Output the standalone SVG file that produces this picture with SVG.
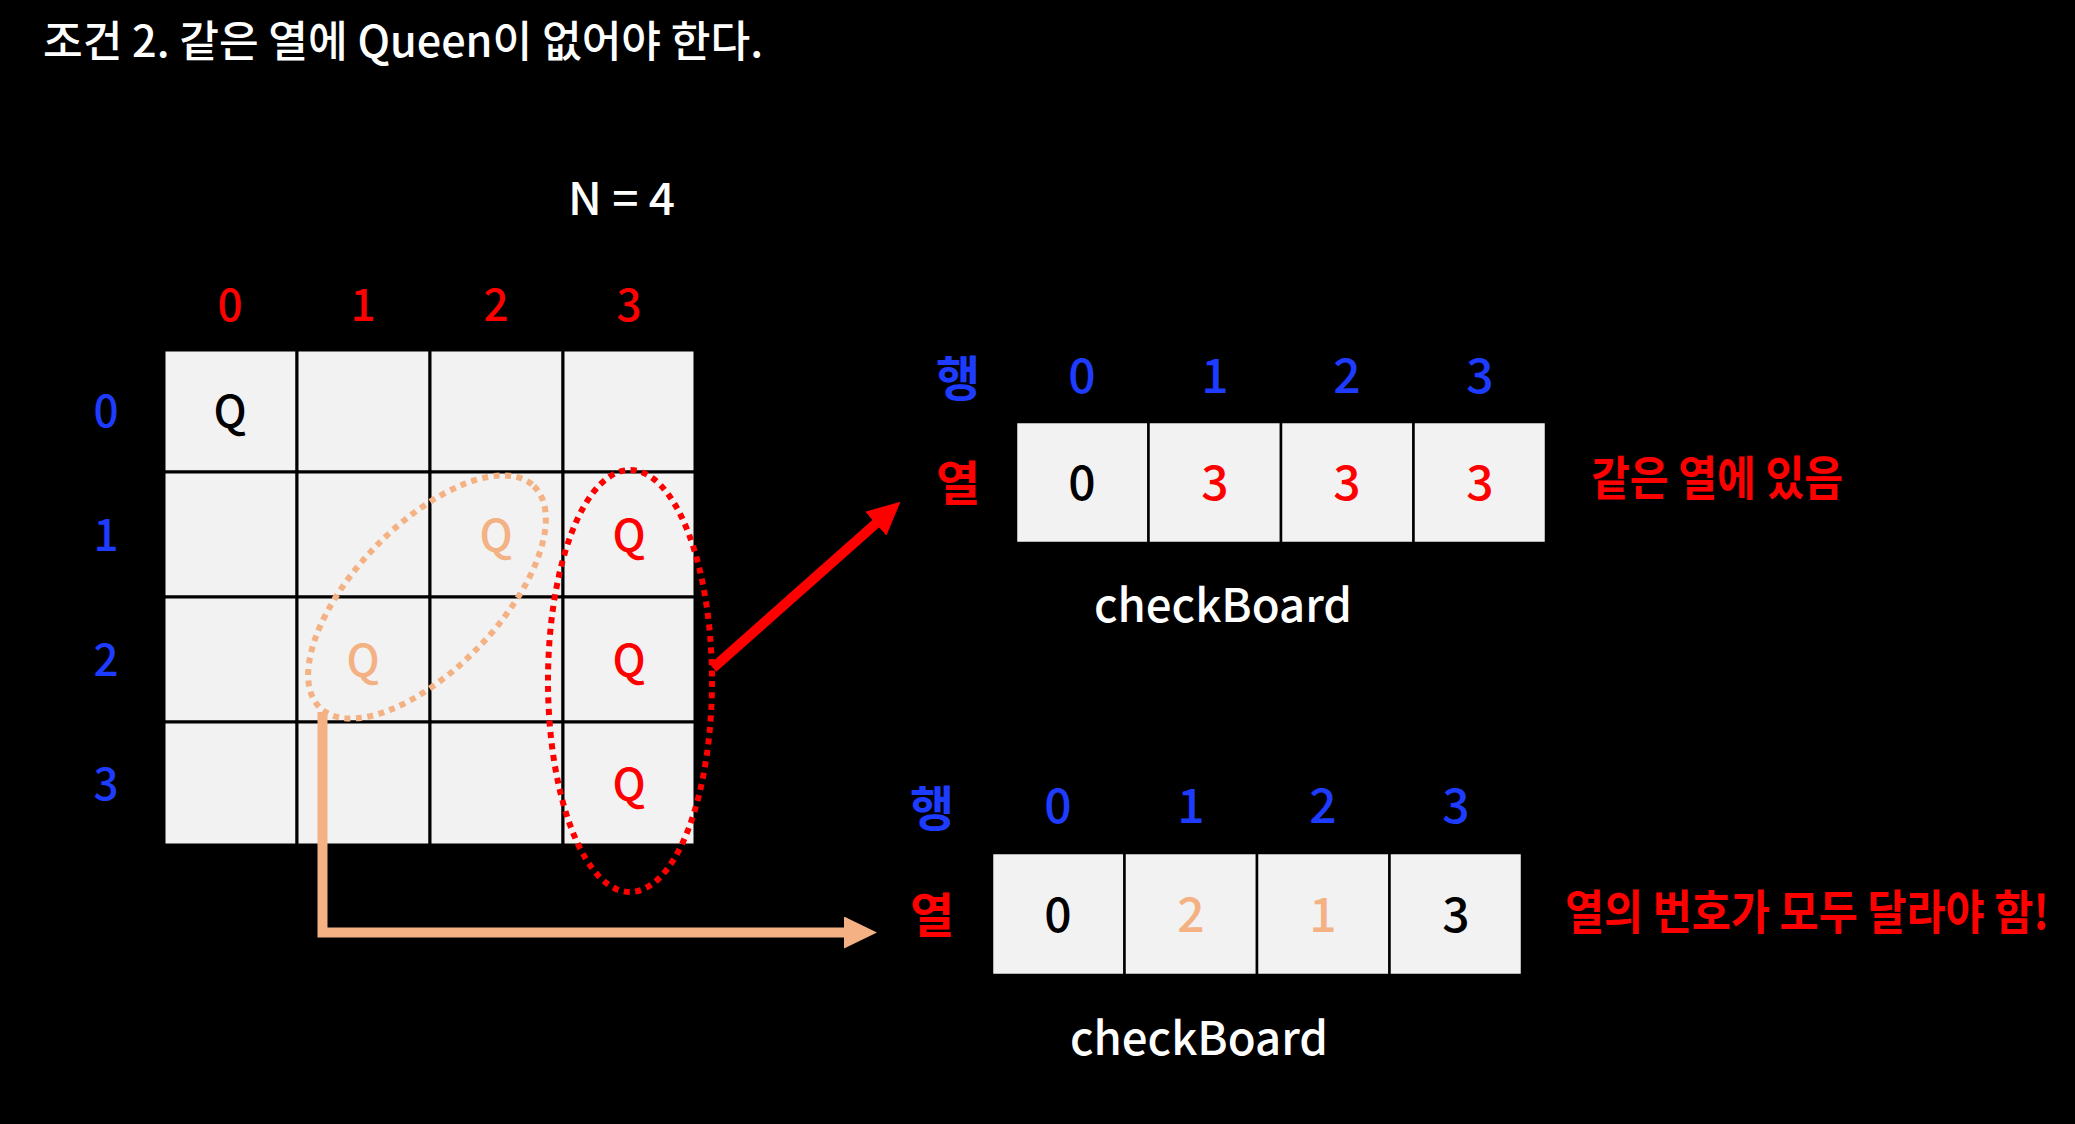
<svg xmlns="http://www.w3.org/2000/svg" width="2075" height="1124" viewBox="0 0 2075 1124">
  <style>
    text { font-family: "Noto Sans CJK KR", "Noto Sans", sans-serif; font-weight: 500; }
    .t { fill: #ffffff; }
    .red { fill: #ff0000; }
    .blue { fill: #1e3cff; }
    .org { fill: #f4b183; }
    .blk { fill: #000000; }
    .lbl { font-size: 44px; text-anchor: middle; }
    .num { font-size: 48px; text-anchor: middle; }
    .q { font-size: 44px; text-anchor: middle; }
    .hk { font-size: 48px; text-anchor: middle; font-weight: 700; }
    .cell { fill: #f2f2f2; stroke: #000000; stroke-width: 3; }
    .acell { fill: #f2f2f2; stroke: #000000; stroke-width: 2.5; }
    .ko { font-size: 47px; font-weight: 700; }
    .dots { fill: none; stroke-width: 6; stroke-dasharray: 6 5.5; }
  </style>
  <defs>
    <marker id="headRed" markerUnits="userSpaceOnUse" markerWidth="33" markerHeight="32" viewBox="0 0 33 32" refX="1" refY="16" orient="auto">
      <path d="M0,0 L33,16 L0,32 Z" fill="#ff0000"/>
    </marker>
    <marker id="headOrg" markerUnits="userSpaceOnUse" markerWidth="33" markerHeight="32" viewBox="0 0 33 32" refX="1" refY="16" orient="auto">
      <path d="M0,0 L33,16 L0,32 Z" fill="#f4b183"/>
    </marker>
  </defs>
  <rect x="0" y="0" width="2075" height="1124" fill="#000000"/>

  <g id="title">
    <text class="t" x="43" y="57" font-size="43" textLength="720" lengthAdjust="spacingAndGlyphs">조건 2. 같은 열에 Queen이 없어야 한다.</text>
  </g>
  <g id="n-label">
    <text class="t" x="568" y="215" font-size="45" textLength="107" lengthAdjust="spacingAndGlyphs">N = 4</text>
  </g>

  <g id="board">
    <g id="board-cells">
      <rect class="cell" x="164" y="350" width="133" height="122"/>
      <rect class="cell" x="297" y="350" width="133" height="122"/>
      <rect class="cell" x="430" y="350" width="133" height="122"/>
      <rect class="cell" x="563" y="350" width="132" height="122"/>
      <rect class="cell" x="164" y="472" width="133" height="125"/>
      <rect class="cell" x="297" y="472" width="133" height="125"/>
      <rect class="cell" x="430" y="472" width="133" height="125"/>
      <rect class="cell" x="563" y="472" width="132" height="125"/>
      <rect class="cell" x="164" y="597" width="133" height="125"/>
      <rect class="cell" x="297" y="597" width="133" height="125"/>
      <rect class="cell" x="430" y="597" width="133" height="125"/>
      <rect class="cell" x="563" y="597" width="132" height="125"/>
      <rect class="cell" x="164" y="722" width="133" height="123"/>
      <rect class="cell" x="297" y="722" width="133" height="123"/>
      <rect class="cell" x="430" y="722" width="133" height="123"/>
      <rect class="cell" x="563" y="722" width="132" height="123"/>
    </g>
    <g id="col-labels">
      <text class="lbl red" x="230" y="321">0</text>
      <text class="lbl red" x="363" y="321">1</text>
      <text class="lbl red" x="496" y="321">2</text>
      <text class="lbl red" x="629" y="321">3</text>
    </g>
    <g id="row-labels">
      <text class="lbl blue" x="106" y="427">0</text>
      <text class="lbl blue" x="106" y="551">1</text>
      <text class="lbl blue" x="106" y="676">2</text>
      <text class="lbl blue" x="106" y="800">3</text>
    </g>
    <g id="queens">
      <text class="q blk" x="230" y="427">Q</text>
      <text class="q org" x="496" y="551">Q</text>
      <text class="q org" x="363" y="676">Q</text>
      <text class="q red" x="629" y="551">Q</text>
      <text class="q red" x="629" y="676">Q</text>
      <text class="q red" x="629" y="800">Q</text>
    </g>
  </g>

  <g id="diag-ellipse">
    <ellipse class="dots" cx="427" cy="597" rx="154" ry="72" transform="rotate(-46 427 597)" stroke="#f4b183"/>
  </g>
  <g id="col-ellipse">
    <ellipse class="dots" cx="630" cy="681" rx="82" ry="211" stroke="#ff0000"/>
  </g>

  <g id="array-top">
    <text class="hk blue" x="958" y="396">행</text>
    <text class="hk red" x="958" y="501">열</text>
    <text class="num blue" x="1082" y="393">0</text>
    <text class="num blue" x="1215" y="393">1</text>
    <text class="num blue" x="1347" y="393">2</text>
    <text class="num blue" x="1480" y="393">3</text>
    <rect class="acell" x="1016" y="422" width="132.5" height="121"/>
    <rect class="acell" x="1148.5" y="422" width="132.5" height="121"/>
    <rect class="acell" x="1281" y="422" width="132.5" height="121"/>
    <rect class="acell" x="1413.5" y="422" width="132.5" height="121"/>
    <text class="num blk" x="1082" y="500">0</text>
    <text class="num red" x="1215" y="500">3</text>
    <text class="num red" x="1347" y="500">3</text>
    <text class="num red" x="1480" y="500">3</text>
    <text class="t" x="1094" y="622" font-size="46" textLength="258" lengthAdjust="spacingAndGlyphs">checkBoard</text>
    <text class="red ko" transform="translate(1591 495) scale(0.85 1)" x="0" y="0" textLength="296.5" lengthAdjust="spacingAndGlyphs">같은 열에 있음</text>
  </g>

  <g id="array-bottom">
    <text class="hk blue" x="932" y="826">행</text>
    <text class="hk red" x="932" y="933">열</text>
    <text class="num blue" x="1058" y="823">0</text>
    <text class="num blue" x="1191" y="823">1</text>
    <text class="num blue" x="1323" y="823">2</text>
    <text class="num blue" x="1456" y="823">3</text>
    <rect class="acell" x="992" y="853" width="132.5" height="122"/>
    <rect class="acell" x="1124.5" y="853" width="132.5" height="122"/>
    <rect class="acell" x="1257" y="853" width="132.5" height="122"/>
    <rect class="acell" x="1389.5" y="853" width="132.5" height="122"/>
    <text class="num blk" x="1058" y="932">0</text>
    <text class="num org" x="1191" y="932">2</text>
    <text class="num org" x="1323" y="932">1</text>
    <text class="num blk" x="1456" y="932">3</text>
    <text class="t" x="1070" y="1055" font-size="46" textLength="258" lengthAdjust="spacingAndGlyphs">checkBoard</text>
    <text class="red ko" transform="translate(1565 929) scale(0.85 1)" x="0" y="0" textLength="569.4" lengthAdjust="spacingAndGlyphs">열의 번호가 모두 달라야 함!</text>
  </g>

  <g id="connectors">
    <path d="M713,668 L876.5,523" fill="none" stroke="#ff0000" stroke-width="10" marker-end="url(#headRed)"/>
    <path d="M322.5,712 V932.5 H845" fill="none" stroke="#f4b183" stroke-width="10" stroke-linejoin="miter" marker-end="url(#headOrg)"/>
  </g>
</svg>
